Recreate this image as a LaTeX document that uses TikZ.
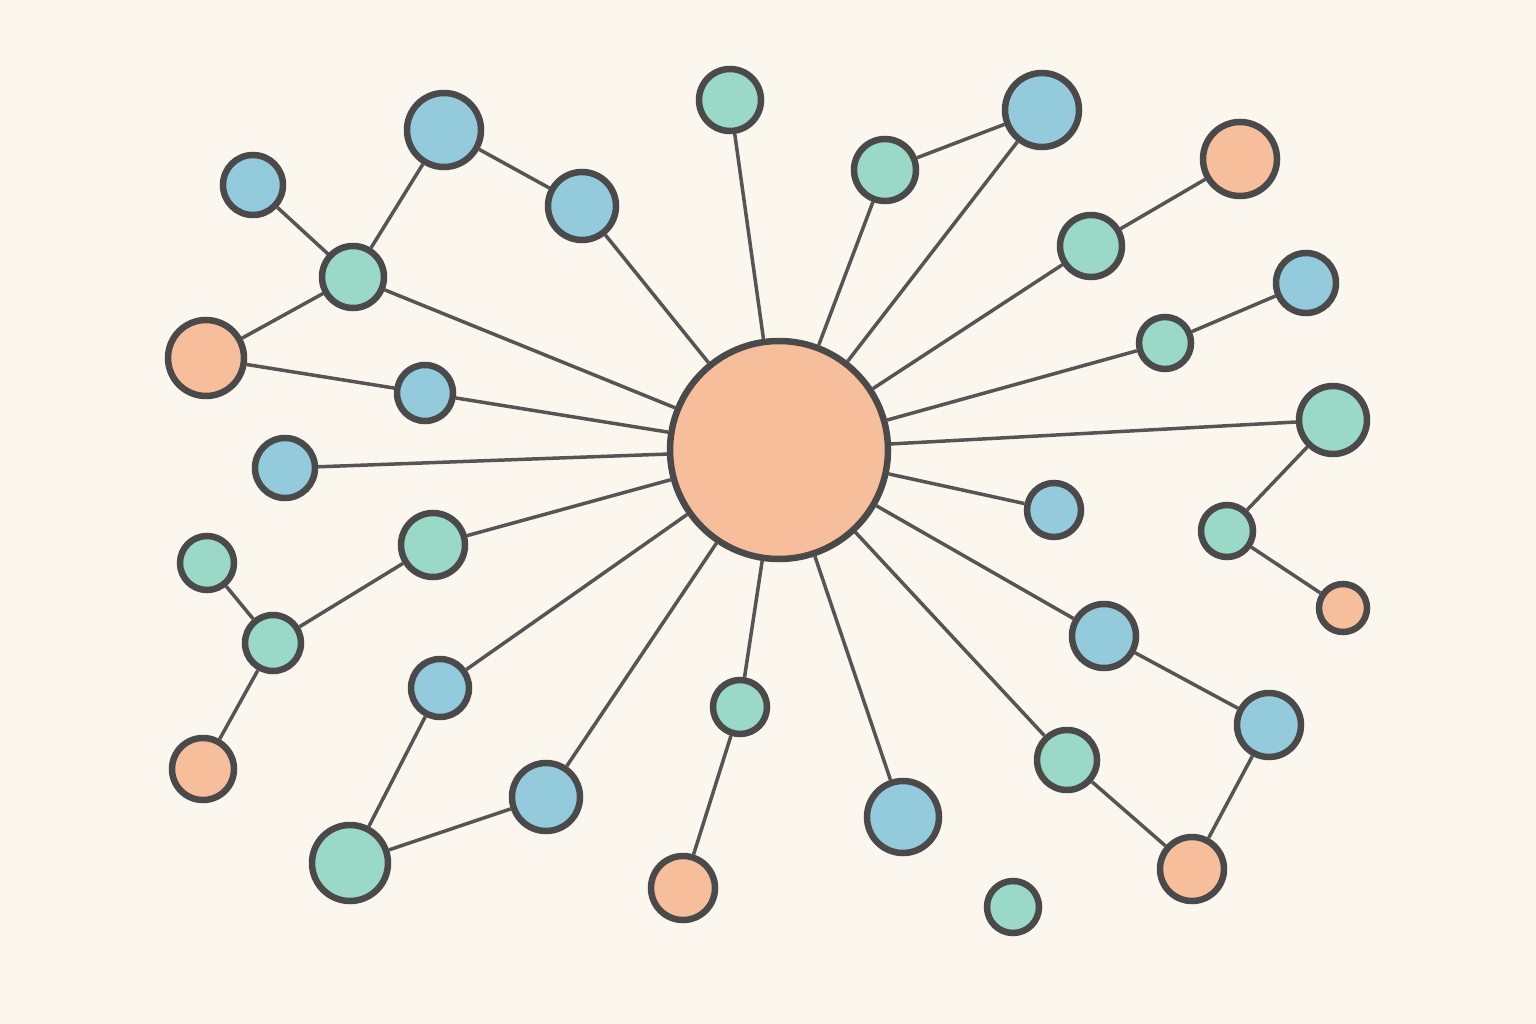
\documentclass[tikz,border=0pt]{standalone}
\usetikzlibrary{backgrounds}
\definecolor{paper}{HTML}{FCF7EE}
\definecolor{org}{HTML}{F7BE9C}
\definecolor{blu}{HTML}{93CBDD}
\definecolor{grn}{HTML}{9AD8C8}
\definecolor{ring}{HTML}{4A4A4A}
\definecolor{edgec}{HTML}{555555}
\pgfdeclarelayer{edges}
\pgfsetlayers{background,edges,main}
\tikzset{
  nd/.style={circle, draw=ring, line width=6.5pt, inner sep=0pt, minimum size=#1},
  lnk/.style={draw=edgec, line width=3.5pt}
}
\begin{document}
\begin{tikzpicture}[x=1pt,y=-1pt]
\begin{pgfonlayer}{background}
\fill[paper] (0,0) rectangle (1536,1024);
\end{pgfonlayer}
\useasboundingbox (0,0) rectangle (1536,1024);
% nodes
\node[nd=218, fill=org] (c) at (779,450) {};
\node[nd=60, fill=blu] (a1) at (253,185) {};
\node[nd=74, fill=blu] (a2) at (444,130) {};
\node[nd=62, fill=grn] (a3) at (353,277) {};
\node[nd=76, fill=org] (a4) at (206,358) {};
\node[nd=68, fill=blu] (a5) at (582,206) {};
\node[nd=56, fill=blu] (b1) at (425,393) {};
\node[nd=60, fill=blu] (b2) at (285,468) {};
\node[nd=62, fill=grn] (t1) at (730,100) {};
\node[nd=62, fill=grn] (t2) at (885,170) {};
\node[nd=74, fill=blu] (t3) at (1042,110) {};
\node[nd=74, fill=org] (t4) at (1240,159) {};
\node[nd=62, fill=grn] (t5) at (1091,246) {};
\node[nd=60, fill=blu] (r1) at (1306,283) {};
\node[nd=52, fill=grn] (r2) at (1165,343) {};
\node[nd=68, fill=grn] (r3) at (1333,420) {};
\node[nd=52, fill=grn] (r4) at (1227,531) {};
\node[nd=48, fill=org] (r5) at (1343,608) {};
\node[nd=54, fill=blu] (r6) at (1054,510) {};
\node[nd=64, fill=blu] (r7) at (1104,636) {};
\node[nd=64, fill=blu] (r8) at (1269,725) {};
\node[nd=64, fill=org] (r9) at (1192,869) {};
\node[nd=60, fill=grn] (r10) at (1067,760) {};
\node[nd=52, fill=grn] (s1) at (1013,907) {};
\node[nd=72, fill=blu] (s2) at (903,817) {};
\node[nd=54, fill=grn] (s3) at (740,707) {};
\node[nd=64, fill=org] (s4) at (683,888) {};
\node[nd=68, fill=blu] (s5) at (546,797) {};
\node[nd=76, fill=grn] (s6) at (350,863) {};
\node[nd=58, fill=blu] (s7) at (440,688) {};
\node[nd=64, fill=grn] (l1) at (433,545) {};
\node[nd=56, fill=grn] (l2) at (273,643) {};
\node[nd=54, fill=grn] (l3) at (207,563) {};
\node[nd=62, fill=org] (l4) at (203,769) {};
% edges
\begin{pgfonlayer}{edges}
\draw[lnk] (c) -- (a3);
\draw[lnk] (a3) -- (a1);
\draw[lnk] (a3) -- (a2);
\draw[lnk] (a3) -- (a4);
\draw[lnk] (a2) -- (a5);
\draw[lnk] (a5) -- (c);
\draw[lnk] (a4) -- (b1);
\draw[lnk] (b1) -- (c);
\draw[lnk] (b2) -- (c);
\draw[lnk] (c) -- (t1);
\draw[lnk] (c) -- (t2);
\draw[lnk] (t2) -- (t3);
\draw[lnk] (t3) -- (c);
\draw[lnk] (t4) -- (t5);
\draw[lnk] (t5) -- (c);
\draw[lnk] (r1) -- (r2);
\draw[lnk] (r2) -- (c);
\draw[lnk] (r3) -- (c);
\draw[lnk] (r3) -- (r4);
\draw[lnk] (r4) -- (r5);
\draw[lnk] (r6) -- (c);
\draw[lnk] (c) -- (r7);
\draw[lnk] (r7) -- (r8);
\draw[lnk] (r8) -- (r9);
\draw[lnk] (r9) -- (r10);
\draw[lnk] (r10) -- (c);
\draw[lnk] (c) -- (s2);
\draw[lnk] (c) -- (s3);
\draw[lnk] (s3) -- (s4);
\draw[lnk] (c) -- (s5);
\draw[lnk] (s5) -- (s6);
\draw[lnk] (s6) -- (s7);
\draw[lnk] (s7) -- (c);
\draw[lnk] (c) -- (l1);
\draw[lnk] (l1) -- (l2);
\draw[lnk] (l2) -- (l3);
\draw[lnk] (l2) -- (l4);
\end{pgfonlayer}
\end{tikzpicture}
\end{document}
